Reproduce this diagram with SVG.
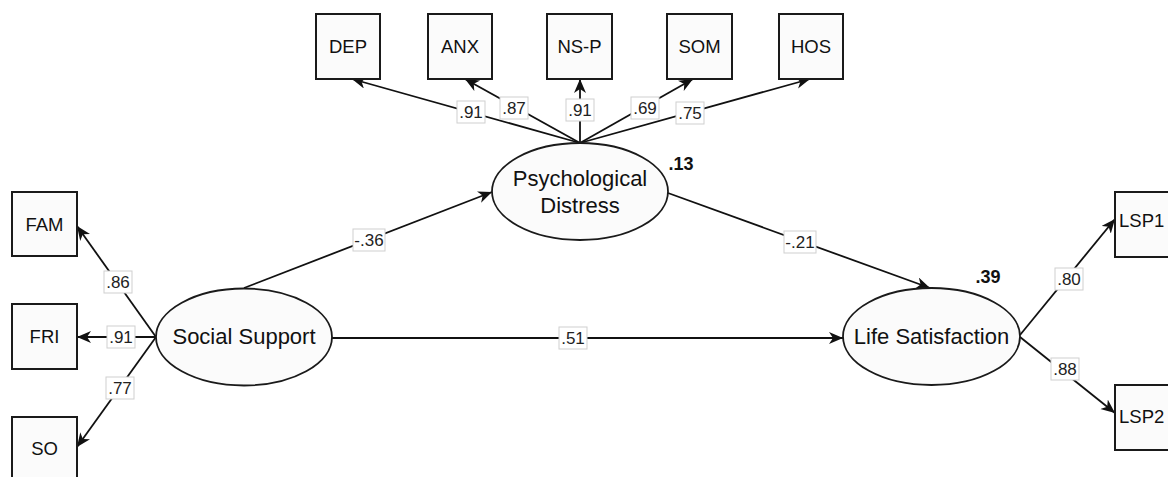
<svg xmlns="http://www.w3.org/2000/svg" width="1168" height="477" viewBox="0 0 1168 477">
  <style>
    .box { fill: #fbfbfb; stroke: #1a1a1a; stroke-width: 2; }
    .lat { fill: #fbfbfb; stroke: #1a1a1a; stroke-width: 1.8; }
    .ntext { font-family: "Liberation Sans", Arial, sans-serif; font-size: 18.5px; fill: #111; text-anchor: middle; }
    .ltext { font-family: "Liberation Sans", Arial, sans-serif; font-size: 22px; fill: #111; text-anchor: middle; }
    .edge { stroke: #111; stroke-width: 1.8; fill: none; marker-end: url(#arrow); }
    .plain { stroke: #111; stroke-width: 1.8; fill: none; }
    .lbox { fill: #ffffff; stroke: #cfcfcf; stroke-width: 1; }
    .lnum { font-family: "Liberation Sans", Arial, sans-serif; font-size: 17px; fill: #222; text-anchor: middle; }
    .r2 { font-family: "Liberation Sans", Arial, sans-serif; font-size: 18px; font-weight: bold; fill: #111; text-anchor: middle; }
  </style>
  <defs>
    <marker id="arrow" markerUnits="userSpaceOnUse" markerWidth="16" markerHeight="14" refX="14" refY="6" orient="auto">
      <path d="M0,0 L14,6 L0,12 L4,6 z" fill="#111"/>
    </marker>
  </defs>

  <rect width="1168" height="477" fill="#ffffff"/>

  <!-- paths and loadings -->
  <g id="connectors">
    <!-- Psychological Distress indicators -->
    <line class="edge" x1="580" y1="143" x2="352" y2="79"/>
    <line class="edge" x1="580" y1="143" x2="465" y2="79"/>
    <line class="edge" x1="580" y1="143" x2="580" y2="79"/>
    <line class="edge" x1="580" y1="143" x2="693" y2="79"/>
    <line class="edge" x1="580" y1="143" x2="810" y2="79"/>
    <!-- Social Support indicators -->
    <line class="edge" x1="156" y1="337" x2="77" y2="226"/>
    <line class="edge" x1="156" y1="337" x2="77" y2="337"/>
    <line class="edge" x1="156" y1="337" x2="77" y2="447"/>
    <!-- structural paths -->
    <line class="edge" x1="244" y1="288" x2="492" y2="192"/>
    <line class="edge" x1="668" y1="193" x2="930" y2="288"/>
    <line class="edge" x1="332" y1="338" x2="843" y2="338"/>
    <!-- Life Satisfaction indicators -->
    <line class="edge" x1="1020" y1="335" x2="1115" y2="219"/>
    <line class="edge" x1="1020" y1="337" x2="1115" y2="413"/>

    <!-- coefficient labels -->
    <g>
      <rect class="lbox" x="457" y="101" width="28" height="22"/><text class="lnum" x="471" y="118">.91</text>
      <rect class="lbox" x="500" y="97" width="28" height="22"/><text class="lnum" x="514" y="114">.87</text>
      <rect class="lbox" x="566" y="99" width="28" height="22"/><text class="lnum" x="580" y="116">.91</text>
      <rect class="lbox" x="631" y="97" width="28" height="22"/><text class="lnum" x="645" y="114">.69</text>
      <rect class="lbox" x="676" y="102" width="28" height="22"/><text class="lnum" x="690" y="119">.75</text>

      <rect class="lbox" x="104" y="271" width="28" height="22"/><text class="lnum" x="118" y="288">.86</text>
      <rect class="lbox" x="107" y="326" width="28" height="22"/><text class="lnum" x="121" y="343">.91</text>
      <rect class="lbox" x="106" y="377" width="28" height="22"/><text class="lnum" x="120" y="394">.77</text>

      <rect class="lbox" x="353" y="229" width="32" height="22"/><text class="lnum" x="369" y="246">-.36</text>
      <rect class="lbox" x="784" y="231" width="32" height="22"/><text class="lnum" x="800" y="248">-.21</text>
      <rect class="lbox" x="559" y="327" width="28" height="22"/><text class="lnum" x="573" y="344">.51</text>

      <rect class="lbox" x="1055" y="268" width="28" height="22"/><text class="lnum" x="1069" y="285">.80</text>
      <rect class="lbox" x="1051" y="358" width="28" height="22"/><text class="lnum" x="1065" y="375">.88</text>
    </g>
  </g>

  <!-- observed indicators -->
  <g id="DEP"><rect class="box" x="316" y="14" width="64" height="65"/><text class="ntext" x="348" y="53">DEP</text></g>
  <g id="ANX"><rect class="box" x="428" y="14" width="64" height="65"/><text class="ntext" x="460" y="53">ANX</text></g>
  <g id="NS-P"><rect class="box" x="547" y="14" width="65" height="65"/><text class="ntext" x="579.5" y="53">NS-P</text></g>
  <g id="SOM"><rect class="box" x="667" y="14" width="65" height="65"/><text class="ntext" x="699.5" y="53">SOM</text></g>
  <g id="HOS"><rect class="box" x="779" y="14" width="64" height="65"/><text class="ntext" x="811" y="53">HOS</text></g>

  <g id="FAM"><rect class="box" x="12" y="192" width="65" height="64"/><text class="ntext" x="44.5" y="231">FAM</text></g>
  <g id="FRI"><rect class="box" x="12" y="304" width="65" height="65"/><text class="ntext" x="44.5" y="343">FRI</text></g>
  <g id="SO"><rect class="box" x="12" y="417" width="65" height="65"/><text class="ntext" x="44.5" y="455">SO</text></g>

  <g id="LSP1"><rect class="box" x="1115" y="192" width="66" height="65"/><text class="ntext" x="1119" y="227" style="text-anchor:start">LSP1</text></g>
  <g id="LSP2"><rect class="box" x="1115" y="385" width="66" height="65"/><text class="ntext" x="1119" y="422.5" style="text-anchor:start">LSP2</text></g>

  <!-- latent constructs -->
  <g id="social-support">
    <ellipse class="lat" cx="244" cy="337" rx="88" ry="48.5"/>
    <text class="ltext" x="244" y="343.5">Social Support</text>
  </g>
  <g id="psychological-distress">
    <ellipse class="lat" cx="580" cy="191.5" rx="88" ry="48.5"/>
    <text class="ltext" x="580" y="186">Psychological</text>
    <text class="ltext" x="580" y="212.5">Distress</text>
    <text class="r2" x="681" y="170">.13</text>
  </g>
  <g id="life-satisfaction">
    <ellipse class="lat" cx="931.5" cy="336.5" rx="88.5" ry="48.5"/>
    <text class="ltext" x="931.5" y="344">Life Satisfaction</text>
    <text class="r2" x="988" y="283">.39</text>
  </g>
</svg>
